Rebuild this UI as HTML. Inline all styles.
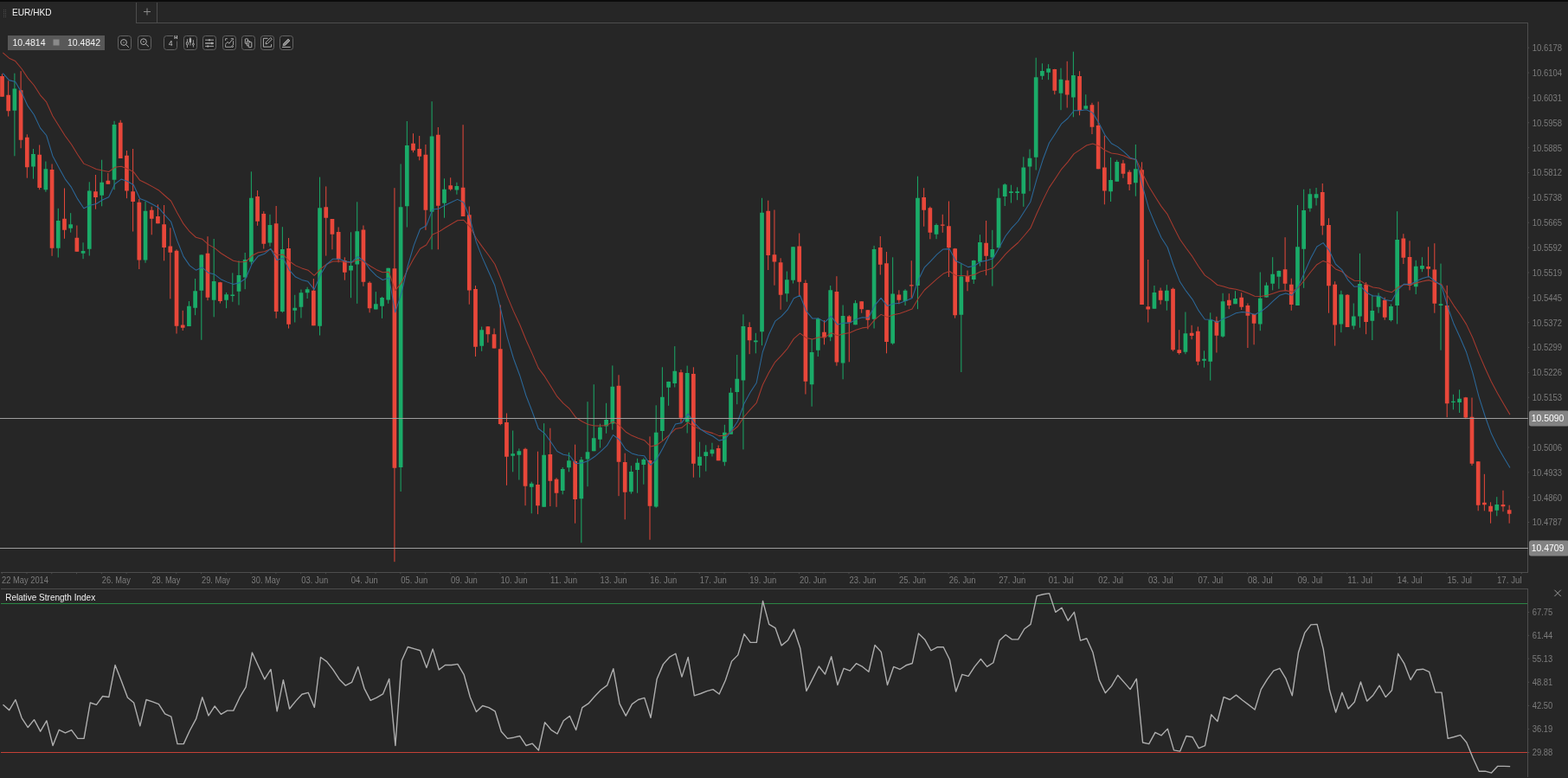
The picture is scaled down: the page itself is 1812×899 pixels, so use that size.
<!DOCTYPE html>
<html lang="en"><head><meta charset="utf-8"><title>EUR/HKD</title>
<style>html,body{margin:0;padding:0;background:#262626;overflow:hidden}svg{display:block}text{font-family:"Liberation Sans","DejaVu Sans",sans-serif}</style></head><body>
<svg width="1812" height="899" viewBox="0 0 1812 899">
<rect width="1812" height="899" fill="#262626"/>
<rect width="1812" height="2" fill="#0b0b0b"/>
<g stroke="#4d4d4d" stroke-width="1" fill="none" shape-rendering="crispEdges">
<path d="M157.5 2.5V26.5H1765.5V661.5"/>
<path d="M181.5 2.5V26.5"/>
<path d="M1 661.5H1765.5"/>
<path d="M1 680.5H1765.5V897.5"/>
<path d="M2.2 662v1.2M30.99 662v1.2M59.78 662v1.2M88.56 662v1.2M117.35 662v1.2M146.14 662v1.2M174.93 662v1.2M203.72 662v1.2M232.5 662v1.2M261.29 662v1.2M290.08 662v1.2M318.87 662v1.2M347.66 662v1.2M376.44 662v1.2M405.23 662v1.2M434.02 662v1.2M462.81 662v1.2M491.6 662v1.2M520.38 662v1.2M549.17 662v1.2M577.96 662v1.2M606.75 662v1.2M635.54 662v1.2M664.32 662v1.2M693.11 662v1.2M721.9 662v1.2M750.69 662v1.2M779.48 662v1.2M808.26 662v1.2M837.05 662v1.2M865.84 662v1.2M894.63 662v1.2M923.42 662v1.2M952.2 662v1.2M980.99 662v1.2M1009.78 662v1.2M1038.57 662v1.2M1067.36 662v1.2M1096.14 662v1.2M1124.93 662v1.2M1153.72 662v1.2M1182.51 662v1.2M1211.3 662v1.2M1240.08 662v1.2M1268.87 662v1.2M1297.66 662v1.2M1326.45 662v1.2M1355.24 662v1.2M1384.02 662v1.2M1412.81 662v1.2M1441.6 662v1.2M1470.39 662v1.2M1499.18 662v1.2M1527.96 662v1.2M1556.75 662v1.2M1585.54 662v1.2M1614.33 662v1.2M1643.12 662v1.2M1671.9 662v1.2M1700.69 662v1.2M1729.48 662v1.2M1758.27 662v1.2" stroke="#4e4e4e" shape-rendering="geometricPrecision"/>
<path d="M1766 55.2h1.2M1766 84.06h1.2M1766 112.92h1.2M1766 141.78h1.2M1766 170.64h1.2M1766 199.5h1.2M1766 228.36h1.2M1766 257.22h1.2M1766 286.08h1.2M1766 314.94h1.2M1766 343.8h1.2M1766 372.66h1.2M1766 401.52h1.2M1766 430.38h1.2M1766 459.24h1.2M1766 516.96h1.2M1766 545.82h1.2M1766 574.68h1.2M1766 603.54h1.2M1766 707.4h1.2M1766 734.3h1.2M1766 761.2h1.2M1766 788.3h1.2M1766 815.4h1.2M1766 842.4h1.2M1766 869.5h1.2" stroke="#4e4e4e" shape-rendering="geometricPrecision"/>
</g>
<g fill="#4c4c4c">
<rect x="4" y="11" width="1" height="1"/><rect x="6" y="11" width="1" height="1"/>
<rect x="4" y="13" width="1" height="1"/><rect x="6" y="13" width="1" height="1"/>
<rect x="4" y="15" width="1" height="1"/><rect x="6" y="15" width="1" height="1"/>
<rect x="4" y="17" width="1" height="1"/><rect x="6" y="17" width="1" height="1"/>
<rect x="4" y="19" width="1" height="1"/><rect x="6" y="19" width="1" height="1"/>
</g>
<text x="14" y="18" font-size="11" fill="#f2f2f2" textLength="45.5" lengthAdjust="spacingAndGlyphs">EUR/HKD</text>
<path d="M166 13.5h8M170 9.5v8" stroke="#8a8a8a" stroke-width="1" fill="none"/>
<rect x="9" y="41" width="112" height="17" fill="#585858"/>
<text x="14.5" y="53.3" font-size="11" fill="#f2f2f2" textLength="38" lengthAdjust="spacingAndGlyphs">10.4814</text>
<rect x="61.5" y="45.5" width="7" height="7" fill="#8a8a8a"/>
<text x="78" y="53.3" font-size="11" fill="#f2f2f2" textLength="38" lengthAdjust="spacingAndGlyphs">10.4842</text>
<rect x="136.5" y="41.5" width="15" height="16" rx="2.800" ry="2.800" fill="#232323" stroke="#626262"/>
<rect x="159.5" y="41.5" width="15" height="16" rx="2.800" ry="2.800" fill="#232323" stroke="#626262"/>
<path d="M200 41.5H192.5a3 3 0 0 0-3 3v10a3 3 0 0 0 3 3h9a3 3 0 0 0 3-3V47.500" fill="#232323" stroke="#626262"/>
<rect x="212.5" y="41.5" width="15" height="16" rx="2.800" ry="2.800" fill="#232323" stroke="#626262"/>
<rect x="234.5" y="41.5" width="15" height="16" rx="2.800" ry="2.800" fill="#232323" stroke="#626262"/>
<rect x="257.5" y="41.5" width="15" height="16" rx="2.800" ry="2.800" fill="#232323" stroke="#626262"/>
<rect x="279.5" y="41.5" width="15" height="16" rx="2.800" ry="2.800" fill="#232323" stroke="#626262"/>
<rect x="301.5" y="41.5" width="15" height="16" rx="2.800" ry="2.800" fill="#232323" stroke="#626262"/>
<rect x="323.5" y="41.5" width="15" height="16" rx="2.800" ry="2.800" fill="#232323" stroke="#626262"/>
<g transform="translate(136,41)" fill="none" stroke="#b0b0b0" stroke-width="1"><circle cx="7" cy="8" r="3.4"/><path d="M9.600 10.600l3.300 3.200"/><rect x="6" y="7.500" width="2.200" height="1.100" fill="#7a7a7a" stroke="none"/></g>
<g transform="translate(159,41)" fill="none" stroke="#b0b0b0" stroke-width="1"><circle cx="6.900" cy="7.200" r="3.400"/><path d="M9.500 9.800l3.300 3.100"/><rect x="6.200" y="6.500" width="1.500" height="1.500" fill="#9a9a9a" stroke="none"/></g>
<text x="194.8" y="52.900" font-size="8.600" fill="#c4c4c4">4</text>
<text x="201.2" y="45.300" font-size="6" font-weight="bold" fill="#d8d8d8" textLength="4" lengthAdjust="spacingAndGlyphs">H</text>
<g transform="translate(212,41)" fill="none" stroke="#b0b0b0" stroke-width="1"><path d="M4.400 4.100v9.900M7.900 2.200v9.400M11.400 5.200v8.300" stroke="#9a9a9a"/><ellipse cx="4.400" cy="9.200" rx="1.100" ry="1.900" fill="#232323"/><rect x="6.700" y="3.300" width="2.400" height="4.900" rx="0.800" fill="#b0b0b0" stroke="none"/><path d="M11.400 8.800l1 1.400-1 1.400-1-1.400z" fill="#232323"/></g>
<g transform="translate(234,41)" fill="none" stroke="#b0b0b0" stroke-width="1"><path d="M3.100 5.200h9.900M3.100 12.400h9.900" stroke="#a8a8a8"/><path d="M3.100 9h9.900" stroke="#8e8e8e" stroke-width="1.800"/><path d="M8 4.200v2M10.900 7.800v2.400M6.200 11.400v2" stroke="#c0c0c0" stroke-width="1.300"/></g>
<g transform="translate(257,41)" fill="none" stroke="#b0b0b0" stroke-width="1"><path d="M5.800 3.700H3.600v2.300M3.600 10.300v3h7M12.600 11v-4.800M9.800 3.700h2.800v1.300" stroke="#a0a0a0"/><path d="M3.600 10l2.500-2.600 1.600 1.900 4.100-4.800"/><circle cx="11.600" cy="12.600" r="0.900" fill="#232323"/></g>
<g transform="translate(279,41)" fill="none" stroke="#b0b0b0" stroke-width="1"><rect x="4.300" y="3.900" width="3.200" height="5.400" rx="0.400"/><rect x="6.300" y="6.400" width="3.400" height="5.400" rx="0.400" fill="#232323"/><rect x="8.200" y="7.700" width="3.600" height="6" rx="0.400" fill="#232323"/></g>
<g transform="translate(301,41)" fill="none" stroke="#b0b0b0" stroke-width="1"><path d="M8.500 3.300H3.400v9.800h9.200v-3"/><path d="M6 9.900l0.500-2.200 5.200-5.200 1.700 1.700-5.200 5.200z" fill="#232323"/></g>
<g transform="translate(323,41)" fill="none" stroke="#b0b0b0" stroke-width="1"><path d="M3 13.400h9.700"/><path d="M4 11.700l0.700-2.400 5.300-5.300 2 2-5.300 5.300z" fill="#8a8a8a" stroke="#b0b0b0" stroke-width="0.800"/></g>
<text x="1770.8" y="59.1" font-size="11" fill="#7c7c7c" textLength="34.3" lengthAdjust="spacingAndGlyphs">10.6178</text>
<text x="1770.8" y="87.96000000000001" font-size="11" fill="#7c7c7c" textLength="34.3" lengthAdjust="spacingAndGlyphs">10.6104</text>
<text x="1770.8" y="116.82000000000001" font-size="11" fill="#7c7c7c" textLength="34.3" lengthAdjust="spacingAndGlyphs">10.6031</text>
<text x="1770.8" y="145.68" font-size="11" fill="#7c7c7c" textLength="34.3" lengthAdjust="spacingAndGlyphs">10.5958</text>
<text x="1770.8" y="174.54" font-size="11" fill="#7c7c7c" textLength="34.3" lengthAdjust="spacingAndGlyphs">10.5885</text>
<text x="1770.8" y="203.4" font-size="11" fill="#7c7c7c" textLength="34.3" lengthAdjust="spacingAndGlyphs">10.5812</text>
<text x="1770.8" y="232.26000000000002" font-size="11" fill="#7c7c7c" textLength="34.3" lengthAdjust="spacingAndGlyphs">10.5738</text>
<text x="1770.8" y="261.11999999999995" font-size="11" fill="#7c7c7c" textLength="34.3" lengthAdjust="spacingAndGlyphs">10.5665</text>
<text x="1770.8" y="289.97999999999996" font-size="11" fill="#7c7c7c" textLength="34.3" lengthAdjust="spacingAndGlyphs">10.5592</text>
<text x="1770.8" y="318.84" font-size="11" fill="#7c7c7c" textLength="34.3" lengthAdjust="spacingAndGlyphs">10.5519</text>
<text x="1770.8" y="347.7" font-size="11" fill="#7c7c7c" textLength="34.3" lengthAdjust="spacingAndGlyphs">10.5445</text>
<text x="1770.8" y="376.55999999999995" font-size="11" fill="#7c7c7c" textLength="34.3" lengthAdjust="spacingAndGlyphs">10.5372</text>
<text x="1770.8" y="405.41999999999996" font-size="11" fill="#7c7c7c" textLength="34.3" lengthAdjust="spacingAndGlyphs">10.5299</text>
<text x="1770.8" y="434.28" font-size="11" fill="#7c7c7c" textLength="34.3" lengthAdjust="spacingAndGlyphs">10.5226</text>
<text x="1770.8" y="463.13999999999993" font-size="11" fill="#7c7c7c" textLength="34.3" lengthAdjust="spacingAndGlyphs">10.5153</text>
<text x="1770.8" y="520.86" font-size="11" fill="#7c7c7c" textLength="34.3" lengthAdjust="spacingAndGlyphs">10.5006</text>
<text x="1770.8" y="549.72" font-size="11" fill="#7c7c7c" textLength="34.3" lengthAdjust="spacingAndGlyphs">10.4933</text>
<text x="1770.8" y="578.58" font-size="11" fill="#7c7c7c" textLength="34.3" lengthAdjust="spacingAndGlyphs">10.4860</text>
<text x="1770.8" y="607.44" font-size="11" fill="#7c7c7c" textLength="34.3" lengthAdjust="spacingAndGlyphs">10.4787</text>
<text x="1770.7" y="711.3" font-size="11" fill="#7c7c7c" textLength="23.5" lengthAdjust="spacingAndGlyphs">67.75</text>
<text x="1770.7" y="738.1999999999999" font-size="11" fill="#7c7c7c" textLength="23.5" lengthAdjust="spacingAndGlyphs">61.44</text>
<text x="1770.7" y="765.1" font-size="11" fill="#7c7c7c" textLength="23.5" lengthAdjust="spacingAndGlyphs">55.13</text>
<text x="1770.7" y="792.1999999999999" font-size="11" fill="#7c7c7c" textLength="23.5" lengthAdjust="spacingAndGlyphs">48.81</text>
<text x="1770.7" y="819.3" font-size="11" fill="#7c7c7c" textLength="23.5" lengthAdjust="spacingAndGlyphs">42.50</text>
<text x="1770.7" y="846.3" font-size="11" fill="#7c7c7c" textLength="23.5" lengthAdjust="spacingAndGlyphs">36.19</text>
<text x="1770.7" y="873.4" font-size="11" fill="#7c7c7c" textLength="23.5" lengthAdjust="spacingAndGlyphs">29.88</text>
<text x="2" y="674.1" font-size="11" fill="#7c7c7c" textLength="54" lengthAdjust="spacingAndGlyphs">22 May 2014</text>
<text x="117.85" y="674.1" font-size="11" fill="#7c7c7c" textLength="33.0" lengthAdjust="spacingAndGlyphs">26. May</text>
<text x="175.43" y="674.1" font-size="11" fill="#7c7c7c" textLength="33.0" lengthAdjust="spacingAndGlyphs">28. May</text>
<text x="233" y="674.1" font-size="11" fill="#7c7c7c" textLength="33.0" lengthAdjust="spacingAndGlyphs">29. May</text>
<text x="290.58" y="674.1" font-size="11" fill="#7c7c7c" textLength="33.0" lengthAdjust="spacingAndGlyphs">30. May</text>
<text x="348.16" y="674.1" font-size="11" fill="#7c7c7c" textLength="31.0" lengthAdjust="spacingAndGlyphs">03. Jun</text>
<text x="405.73" y="674.1" font-size="11" fill="#7c7c7c" textLength="31.0" lengthAdjust="spacingAndGlyphs">04. Jun</text>
<text x="463.31" y="674.1" font-size="11" fill="#7c7c7c" textLength="31.0" lengthAdjust="spacingAndGlyphs">05. Jun</text>
<text x="520.88" y="674.1" font-size="11" fill="#7c7c7c" textLength="31.0" lengthAdjust="spacingAndGlyphs">09. Jun</text>
<text x="578.46" y="674.1" font-size="11" fill="#7c7c7c" textLength="31.0" lengthAdjust="spacingAndGlyphs">10. Jun</text>
<text x="636.04" y="674.1" font-size="11" fill="#7c7c7c" textLength="31.0" lengthAdjust="spacingAndGlyphs">11. Jun</text>
<text x="693.61" y="674.1" font-size="11" fill="#7c7c7c" textLength="31.0" lengthAdjust="spacingAndGlyphs">13. Jun</text>
<text x="751.19" y="674.1" font-size="11" fill="#7c7c7c" textLength="31.0" lengthAdjust="spacingAndGlyphs">16. Jun</text>
<text x="808.76" y="674.1" font-size="11" fill="#7c7c7c" textLength="31.0" lengthAdjust="spacingAndGlyphs">17. Jun</text>
<text x="866.34" y="674.1" font-size="11" fill="#7c7c7c" textLength="31.0" lengthAdjust="spacingAndGlyphs">19. Jun</text>
<text x="923.92" y="674.1" font-size="11" fill="#7c7c7c" textLength="31.0" lengthAdjust="spacingAndGlyphs">20. Jun</text>
<text x="981.49" y="674.1" font-size="11" fill="#7c7c7c" textLength="31.0" lengthAdjust="spacingAndGlyphs">23. Jun</text>
<text x="1039.07" y="674.1" font-size="11" fill="#7c7c7c" textLength="31.0" lengthAdjust="spacingAndGlyphs">25. Jun</text>
<text x="1096.64" y="674.1" font-size="11" fill="#7c7c7c" textLength="31.0" lengthAdjust="spacingAndGlyphs">26. Jun</text>
<text x="1154.22" y="674.1" font-size="11" fill="#7c7c7c" textLength="31.0" lengthAdjust="spacingAndGlyphs">27. Jun</text>
<text x="1211.8" y="674.1" font-size="11" fill="#7c7c7c" textLength="28.6" lengthAdjust="spacingAndGlyphs">01. Jul</text>
<text x="1269.37" y="674.1" font-size="11" fill="#7c7c7c" textLength="28.6" lengthAdjust="spacingAndGlyphs">02. Jul</text>
<text x="1326.95" y="674.1" font-size="11" fill="#7c7c7c" textLength="28.6" lengthAdjust="spacingAndGlyphs">03. Jul</text>
<text x="1384.52" y="674.1" font-size="11" fill="#7c7c7c" textLength="28.6" lengthAdjust="spacingAndGlyphs">07. Jul</text>
<text x="1442.1" y="674.1" font-size="11" fill="#7c7c7c" textLength="28.6" lengthAdjust="spacingAndGlyphs">08. Jul</text>
<text x="1499.68" y="674.1" font-size="11" fill="#7c7c7c" textLength="28.6" lengthAdjust="spacingAndGlyphs">09. Jul</text>
<text x="1557.25" y="674.1" font-size="11" fill="#7c7c7c" textLength="28.6" lengthAdjust="spacingAndGlyphs">11. Jul</text>
<text x="1614.83" y="674.1" font-size="11" fill="#7c7c7c" textLength="28.6" lengthAdjust="spacingAndGlyphs">14. Jul</text>
<text x="1672.4" y="674.1" font-size="11" fill="#7c7c7c" textLength="28.6" lengthAdjust="spacingAndGlyphs">15. Jul</text>
<text x="1729.98" y="674.1" font-size="11" fill="#7c7c7c" textLength="28.6" lengthAdjust="spacingAndGlyphs">17. Jul</text>
<path d="M16.89 84.7V180.3M38.48 172V206.7M52.88 186.5V221.7M67.27 240.8V297.5M81.67 246.2V268.7M96.06 280.3V299.2M103.26 210.3V295.5M117.65 184.7V238.3M132.05 139.8V219.2M168.03 233V303.7M218.41 348V377M225.61 322V364.2M232.8 294.3V392.8M247.2 276V366.3M261.59 338V356.2M268.79 315.4V348.8M275.99 301.3V352.5M283.18 292V334.2M290.38 198.3V306.2M311.97 247.8V284.7M326.37 262.2V361.3M340.76 340.8V372.5M347.96 334.5V367.5M355.15 331.7V345M369.55 204.6V387.5M405.53 268.3V344.2M412.73 233.3V350.8M434.32 337.1V357.5M441.52 342.9V367.9M448.71 309.7V350.8M463.11 189.5V568M470.31 140V262.5M499.09 117.2V288.3M513.49 206.3V251.7M527.88 210.8V224.7M556.67 377.5V405.8M592.65 497.5V545.3M599.85 518.3V554.5M614.25 556.7V593.3M628.64 489.2V585.8M650.23 540V571.3M657.43 522.8V545.3M671.82 528V627.2M679.02 464.2V562.2M686.22 444.2V521.3M693.41 489.7V517.5M700.61 465.8V500.8M707.81 422.4V496.7M729.4 538.2V570.6M736.59 529.8V569.7M743.79 529.4V559.7M758.19 468.3V586.7M765.38 424.3V509.2M772.58 440.8V468.8M779.78 400.1V447.5M794.17 422.6V500.5M808.56 510.6V551.7M815.76 514.3V544.6M822.96 511.7V527.5M837.35 490.8V538.3M844.55 448.2V501.7M851.75 410V467.2M858.94 363.3V519.4M873.34 384.8V408.3M880.53 228.8V399.2M909.32 313.5V348.7M916.52 285V327.5M938.11 391.7V469.7M945.31 367V412M959.7 330V394.2M974.1 352.5V438.3M988.49 347V375.3M1010.08 283.9V379.5M1031.67 297.3V398.3M1046.07 334.2V353M1060.46 203.7V357.2M1082.05 258.3V276.2M1110.84 305V430M1125.23 300.5V328M1132.43 271.2V307.5M1146.82 265.8V330.6M1154.02 217.5V286.2M1161.22 212V238M1168.41 213.7V234.5M1175.61 216.3V231.2M1182.81 181.3V238.8M1190.01 172.5V220.8M1197.2 66.7V196.5M1204.4 73.3V92M1211.6 74.2V92.2M1225.99 78.7V127.2M1240.38 59.7V135.3M1254.78 109.2V125.8M1283.57 182V233M1290.76 184.8V209.7M1312.35 167V226.7M1333.94 330V356.7M1348.34 329.2V358.7M1369.93 360.5V409.2M1391.52 405.3V424.7M1398.72 361.3V439.7M1413.11 338.8V390M1427.51 336.2V351.2M1456.29 314.5V382.2M1463.49 326.3V343.6M1470.69 297.2V335.4M1477.88 312.5V333.8M1499.48 237V353M1506.67 218.8V332.8M1513.87 218V244.7M1521.07 217V237.5M1549.86 335.8V384.2M1564.25 350.5V380.6M1571.45 292.8V378.7M1585.84 340.8V393M1593.04 338.5V361.7M1607.43 351.5V371.5M1614.63 244.2V374.4M1636.22 300.8V340M1643.42 297.2V314.2M1665.01 304.6V404.7M1679.4 455.8V473.3M1686.6 450.3V477M1729.78 574.2V596.3" stroke="#1aab68" stroke-width="1" fill="none"/>
<path d="M2.5 85.5V111.7M9.7 93.3V134.5M24.09 82.2V171.3M31.29 155.3V205.7M45.68 167.5V219.2M60.08 189.5V295.8M74.47 217.5V275.8M88.86 260.5V290.8M110.45 202V241.7M124.85 200V212.8M139.24 138.8V183M146.44 174V229.2M153.64 172V267.5M160.83 230V311M175.23 238.7V271.3M182.43 236.3V258.3M189.62 237V301.3M196.82 263.3V345.3M204.02 288.3V385.5M211.21 358.8V382M240 273.2V347.2M254.4 325.8V350.5M297.58 220V260.8M304.77 244.2V287.5M319.17 238V367.8M333.56 275V379.5M362.35 322V376.2M376.74 215.4V295.6M383.94 253V288.3M391.14 262.5V303.3M398.33 297.3V323.7M419.93 260.5V330.8M427.12 325.2V361.3M455.91 217.2V649.2M477.5 154.2V176.2M484.7 157V185.3M491.9 167V265.8M506.29 147V288.3M520.68 205.3V220.4M535.08 144.2V250M542.27 238.5V351.7M549.47 330V412M563.87 377V395.8M571.06 379.5V402.5M578.26 352.5V491.3M585.46 477.5V560.8M607.05 517.5V584.2M621.44 521.7V594.2M635.84 494.7V585M643.03 552.2V585.8M664.62 513.7V604.7M715 433.3V573.2M722.2 523.7V600.3M750.99 504.4V623.7M786.97 427.1V488.3M801.37 424.3V551.7M830.15 514.5V532.2M866.14 372.3V409.2M887.73 231.7V312M894.93 242.5V329.7M902.12 298.3V357.8M923.72 269.5V341.7M930.91 323.5V455.5M952.5 370V398.3M966.9 319.2V422.7M981.29 364.2V418.3M995.69 348.3V361.7M1002.88 358V380.3M1017.28 273V317.5M1024.47 291V408.3M1038.87 335.3V351.3M1053.26 301.2V344.2M1067.66 217.2V261.7M1074.85 238.7V276.3M1089.25 247.8V268.8M1096.44 232.5V320M1103.64 286.8V367.6M1118.04 312.5V336.3M1139.63 255V318.2M1218.79 79.7V109.2M1233.19 70.8V124.5M1247.58 82.2V133.3M1261.97 118.8V155M1269.17 117.5V195.3M1276.37 156.7V236.3M1297.96 184.8V205.8M1305.16 196.5V220M1319.55 187.3V352M1326.75 300V372.5M1341.14 332.5V351.7M1355.54 332.5V405.8M1362.73 381.2V409.7M1377.13 375.8V392.2M1384.32 377.5V422M1405.91 365.8V407.5M1420.31 339.2V357.2M1434.7 338.3V358M1441.9 350.5V402M1449.1 362.5V398.3M1485.08 274.2V335.8M1492.28 321.7V358.8M1528.26 212V271.5M1535.46 252.2V361.7M1542.66 325.2V399.6M1557.05 340V378M1578.64 326.2V386.2M1600.23 343.7V369.7M1621.83 270.2V305M1629.02 278.3V335.4M1650.61 285.3V320.5M1657.81 281.2V361.7M1672.2 329.8V482.2M1693.8 458.8V484.2M1700.99 459.5V538M1708.19 533V590.3M1715.39 547.8V590.3M1722.58 580.3V604.7M1736.98 566.7V591.2M1744.17 583.7V604.7" stroke="#e8473a" stroke-width="1" fill="none"/>
<path d="M14.54 102.5h4.7v25.3h-4.7zM36.13 178h4.7v14.5h-4.7zM50.53 195.2h4.7v24h-4.7zM64.92 255h4.7v31.7h-4.7zM79.32 259.2h4.7v4.5h-4.7zM93.71 290h4.7v2.8h-4.7zM100.91 220.5h4.7v67.3h-4.7zM115.3 210.8h4.7v15h-4.7zM129.7 144h4.7v63.8h-4.7zM165.68 243.8h4.7v56.8h-4.7zM216.06 353.8h4.7v23.2h-4.7zM223.26 336.2h4.7v19.6h-4.7zM230.45 294.5h4.7v41.3h-4.7zM244.85 325h4.7v21.7h-4.7zM259.24 340.3h4.7v6.4h-4.7zM266.44 340.5h4.7v1.5h-4.7zM273.64 318h4.7v18.7h-4.7zM280.83 300h4.7v20.5h-4.7zM288.03 228.8h4.7v73.7h-4.7zM309.62 260h4.7v20.6h-4.7zM324.01 288h4.7v72h-4.7zM338.41 355.8h4.7v3h-4.7zM345.61 338.3h4.7v16.4h-4.7zM352.8 334.2h4.7v4.1h-4.7zM367.2 240.2h4.7v136.5h-4.7zM403.18 307h4.7v5.5h-4.7zM410.38 267.2h4.7v38.4h-4.7zM431.97 351.2h4.7v6.3h-4.7zM439.17 344.1h4.7v9.6h-4.7zM446.36 309.8h4.7v36.6h-4.7zM460.76 239.2h4.7v300.8h-4.7zM467.95 168h4.7v70.3h-4.7zM496.74 157.5h4.7v87.2h-4.7zM511.14 218.8h4.7v15.9h-4.7zM525.53 215h4.7v4.6h-4.7zM554.32 381.2h4.7v18.5h-4.7zM590.3 524.2h4.7v2.5h-4.7zM597.5 521.3h4.7v4.5h-4.7zM611.89 558.8h4.7v4h-4.7zM626.29 525.8h4.7v60h-4.7zM647.88 542h4.7v25h-4.7zM655.08 532.2h4.7v8.1h-4.7zM669.47 531.3h4.7v44.9h-4.7zM676.67 522.2h4.7v8.3h-4.7zM683.87 506.2h4.7v15.1h-4.7zM691.06 493.8h4.7v14h-4.7zM698.26 485h4.7v7.5h-4.7zM705.46 446.7h4.7v42.8h-4.7zM727.05 545h4.7v23.3h-4.7zM734.24 534.8h4.7v8.2h-4.7zM741.44 531h4.7v6h-4.7zM755.84 499.7h4.7v85.8h-4.7zM763.03 458.8h4.7v39.2h-4.7zM770.23 440.9h4.7v6.9h-4.7zM777.43 428.7h4.7v14.3h-4.7zM791.82 430.9h4.7v56.6h-4.7zM806.21 527.7h4.7v10.3h-4.7zM813.41 522.2h4.7v4.8h-4.7zM820.61 519.6h4.7v4.6h-4.7zM835 499.7h4.7v34.1h-4.7zM842.2 453.7h4.7v48h-4.7zM849.4 437.8h4.7v15.2h-4.7zM856.59 377h4.7v62.6h-4.7zM870.99 393.5h4.7v1.7h-4.7zM878.18 245.8h4.7v137.5h-4.7zM906.97 323.2h4.7v16h-4.7zM914.17 285.3h4.7v38.4h-4.7zM935.76 407h4.7v37.2h-4.7zM942.96 368.3h4.7v36.5h-4.7zM957.35 335.3h4.7v54.2h-4.7zM971.75 365h4.7v54.6h-4.7zM986.14 350.3h4.7v25h-4.7zM1007.73 287.9h4.7v80.9h-4.7zM1029.32 339.5h4.7v57.2h-4.7zM1043.72 335.8h4.7v12.2h-4.7zM1058.11 228.8h4.7v101.2h-4.7zM1079.7 260h4.7v10.8h-4.7zM1108.49 319.6h4.7v44.1h-4.7zM1122.88 301h4.7v21.9h-4.7zM1130.08 280h4.7v22.7h-4.7zM1144.47 288h4.7v9.5h-4.7zM1151.67 228.7h4.7v57.5h-4.7zM1158.87 213.3h4.7v13.7h-4.7zM1166.06 221.3h4.7v1.7h-4.7zM1173.26 221.3h4.7v1.7h-4.7zM1180.46 193.5h4.7v30.3h-4.7zM1187.66 182.8h4.7v9.7h-4.7zM1194.85 89.2h4.7v92.5h-4.7zM1202.05 82h4.7v5.8h-4.7zM1209.25 79.2h4.7v4.5h-4.7zM1223.64 91.7h4.7v16.1h-4.7zM1238.03 87h4.7v25.5h-4.7zM1252.43 122.2h4.7v3.6h-4.7zM1281.22 208h4.7v13.2h-4.7zM1288.41 187h4.7v22.7h-4.7zM1310 195.2h4.7v16.1h-4.7zM1331.6 338h4.7v18.7h-4.7zM1345.99 335.8h4.7v12h-4.7zM1367.58 385.3h4.7v21.4h-4.7zM1389.17 414.7h4.7v2h-4.7zM1396.37 369.7h4.7v48.1h-4.7zM1410.76 348.3h4.7v40.5h-4.7zM1425.16 345h4.7v6.2h-4.7zM1453.94 344.7h4.7v29.8h-4.7zM1461.14 329.7h4.7v13.9h-4.7zM1468.34 316.8h4.7v11h-4.7zM1475.54 313h4.7v6.8h-4.7zM1497.13 285.3h4.7v67.7h-4.7zM1504.32 243h4.7v44.8h-4.7zM1511.52 224.2h4.7v16.6h-4.7zM1518.72 224.2h4.7v4.6h-4.7zM1547.51 340.3h4.7v34.3h-4.7zM1561.9 365.6h4.7v10.8h-4.7zM1569.1 327.9h4.7v37.6h-4.7zM1583.49 359h4.7v11.8h-4.7zM1590.69 342h4.7v12.7h-4.7zM1605.08 354h4.7v16h-4.7zM1612.28 277.1h4.7v75.8h-4.7zM1633.87 307.7h4.7v23.5h-4.7zM1641.07 307.1h4.7v3.7h-4.7zM1662.66 351.2h4.7v1.7h-4.7zM1677.05 463.8h4.7v1.2h-4.7zM1684.25 460.8h4.7v4.2h-4.7zM1727.43 583h4.7v6.7h-4.7z" fill="#1aab68"/>
<path d="M0.15 88h4.7v23.7h-4.7zM7.35 109.7h4.7v18.6h-4.7zM21.74 104.2h4.7v57.5h-4.7zM28.94 158.8h4.7v34.5h-4.7zM43.33 178.7h4.7v38.3h-4.7zM57.73 196.1h4.7v90.6h-4.7zM72.12 252.8h4.7v13h-4.7zM86.51 274.7h4.7v16.1h-4.7zM108.11 221.3h4.7v6.7h-4.7zM122.5 208.8h4.7v4h-4.7zM136.89 141.8h4.7v41.2h-4.7zM144.09 179.8h4.7v40.7h-4.7zM151.29 221.3h4.7v11.7h-4.7zM158.48 233.8h4.7v66.8h-4.7zM172.88 242.8h4.7v10h-4.7zM180.08 250h4.7v8.3h-4.7zM187.27 259.2h4.7v26.8h-4.7zM194.47 284.6h4.7v7.1h-4.7zM201.67 289.8h4.7v86.9h-4.7zM208.86 375.5h4.7v3.2h-4.7zM237.65 292.8h4.7v50.9h-4.7zM252.05 326.2h4.7v21.8h-4.7zM295.23 227.1h4.7v28.7h-4.7zM302.42 246.9h4.7v34.8h-4.7zM316.82 258.2h4.7v101.8h-4.7zM331.21 287h4.7v87.7h-4.7zM360 335.8h4.7v40.4h-4.7zM374.39 239.3h4.7v12.4h-4.7zM381.59 253h4.7v17.8h-4.7zM388.79 268h4.7v31.7h-4.7zM395.98 301h4.7v13.7h-4.7zM417.58 265.5h4.7v60.3h-4.7zM424.77 326.8h4.7v29.5h-4.7zM453.56 310.3h4.7v230.5h-4.7zM475.15 165.8h4.7v8h-4.7zM482.35 172h4.7v8.8h-4.7zM489.55 178.8h4.7v64h-4.7zM503.94 155.8h4.7v82h-4.7zM518.33 214.2h4.7v4.5h-4.7zM532.73 216.7h4.7v33.3h-4.7zM539.92 248.3h4.7v87.2h-4.7zM547.12 334h4.7v66.8h-4.7zM561.52 377.2h4.7v9h-4.7zM568.71 386.2h4.7v16.3h-4.7zM575.91 403.3h4.7v86.7h-4.7zM583.11 488h4.7v39.8h-4.7zM604.7 518.7h4.7v43h-4.7zM619.09 560h4.7v24.2h-4.7zM633.49 525h4.7v30.8h-4.7zM640.68 553.8h4.7v15.9h-4.7zM662.27 533h4.7v44h-4.7zM712.65 445.8h4.7v88h-4.7zM719.85 534h4.7v34.8h-4.7zM748.64 532.1h4.7v52.6h-4.7zM784.62 430.3h4.7v52.5h-4.7zM799.02 432h4.7v103.8h-4.7zM827.8 517.9h4.7v14.3h-4.7zM863.79 378h4.7v15.3h-4.7zM885.38 243.8h4.7v51.2h-4.7zM892.58 294.3h4.7v8.2h-4.7zM899.77 303.3h4.7v37.5h-4.7zM921.37 284.6h4.7v41.2h-4.7zM928.56 327h4.7v113.8h-4.7zM950.15 383.7h4.7v6.6h-4.7zM964.55 337h4.7v81.5h-4.7zM978.94 365.5h4.7v7h-4.7zM993.34 348.3h4.7v8.9h-4.7zM1000.53 358.3h4.7v11.4h-4.7zM1014.93 286h4.7v19.8h-4.7zM1022.12 304.2h4.7v90.8h-4.7zM1036.52 340.5h4.7v6.2h-4.7zM1050.91 329.2h4.7v1.3h-4.7zM1065.31 228h4.7v14.8h-4.7zM1072.5 240.3h4.7v28.5h-4.7zM1086.9 259.5h4.7v1.3h-4.7zM1094.09 261.2h4.7v25h-4.7zM1101.29 287.2h4.7v77.1h-4.7zM1115.69 319h4.7v6.7h-4.7zM1137.28 280.8h4.7v15h-4.7zM1216.44 80h4.7v24.7h-4.7zM1230.84 92.8h4.7v16.7h-4.7zM1245.23 88h4.7v39.8h-4.7zM1259.62 121.3h4.7v25.4h-4.7zM1266.82 145h4.7v50.3h-4.7zM1274.02 193.5h4.7v27h-4.7zM1295.61 188.8h4.7v12h-4.7zM1302.81 198.8h4.7v14.2h-4.7zM1317.2 196.2h4.7v155.8h-4.7zM1324.4 354.2h4.7v3.3h-4.7zM1338.79 335.8h4.7v10.9h-4.7zM1353.19 333.8h4.7v70.4h-4.7zM1360.38 404.2h4.7v3.8h-4.7zM1374.78 384.7h4.7v3.3h-4.7zM1381.97 382.8h4.7v35h-4.7zM1403.57 370.8h4.7v17h-4.7zM1417.96 346.7h4.7v6.3h-4.7zM1432.35 343.8h4.7v10.9h-4.7zM1439.55 353h4.7v11.7h-4.7zM1446.75 363h4.7v10.7h-4.7zM1482.73 311.3h4.7v16.5h-4.7zM1489.93 328.7h4.7v23.3h-4.7zM1525.91 222h4.7v38.8h-4.7zM1533.11 260h4.7v70.3h-4.7zM1540.31 328.7h4.7v46.7h-4.7zM1554.7 340.8h4.7v37.2h-4.7zM1576.29 328.7h4.7v43.3h-4.7zM1597.88 346.7h4.7v20h-4.7zM1619.48 275.5h4.7v22.3h-4.7zM1626.67 297h4.7v33h-4.7zM1648.26 308h4.7v2.8h-4.7zM1655.46 311.6h4.7v39.2h-4.7zM1669.85 353h4.7v113.2h-4.7zM1691.45 459.2h4.7v23.3h-4.7zM1698.64 481.7h4.7v54.1h-4.7zM1705.84 533.3h4.7v50.4h-4.7zM1713.04 580.8h4.7v2.5h-4.7zM1720.23 584.7h4.7v6.6h-4.7zM1734.63 583h4.7v2.3h-4.7zM1741.82 589.2h4.7v4.5h-4.7z" fill="#e8473a"/>
<path d="M3.3 60.8L10.5 67.23L17.69 70.59L24.89 79.27L32.09 90.13L39.28 98.49L46.48 109.78L53.68 117.92L60.88 133.99L68.07 145.52L75.27 156.97L82.47 166.71L89.66 178.53L96.86 189.14L104.06 192.13L111.25 195.54L118.45 197L125.65 198.5L132.85 193.31L140.04 192.33L147.24 195.01L154.44 198.63L161.63 208.34L168.83 211.72L176.03 215.63L183.23 219.7L190.42 226.01L197.62 232.27L204.82 246.02L212.01 258.66L219.21 267.72L226.41 274.24L233.6 276.17L240.8 282.6L248 286.64L255.2 292.48L262.39 297.04L269.59 301.18L276.79 302.78L283.98 302.51L291.18 295.49L298.38 291.71L305.57 290.76L312.77 287.83L319.97 294.7L327.17 294.07L334.36 301.74L341.56 306.89L348.76 309.88L355.95 312.2L363.15 318.3L370.35 310.86L377.54 305.22L384.74 301.94L391.94 301.73L399.13 302.97L406.33 303.35L413.53 299.91L420.73 302.37L427.92 307.51L435.12 311.67L442.32 314.76L449.51 314.29L456.71 335.86L463.91 326.65L471.11 311.54L478.3 298.43L485.5 287.22L492.7 282.99L499.89 271.04L507.09 267.87L514.29 263.2L521.48 258.96L528.68 254.78L535.88 254.32L543.07 262.05L550.27 275.27L557.47 285.36L564.67 294.96L571.86 305.2L579.06 322.8L586.26 342.33L593.45 359.65L600.65 375.04L607.85 392.82L615.04 408.63L622.24 425.35L629.44 434.91L636.64 446.43L643.83 458.17L651.03 466.15L658.23 472.44L665.42 482.4L672.62 487.06L679.82 490.4L687.01 491.91L694.21 492.09L701.41 491.41L708.61 487.16L715.8 491.6L723 498.95L730.2 503.34L737.39 506.33L744.59 508.68L751.79 515.92L758.99 514.38L766.18 509.08L773.38 502.59L780.58 495.55L787.77 494.34L794.97 488.3L802.17 492.82L809.36 496.14L816.56 498.62L823.76 500.62L830.95 503.63L838.15 503.26L845.35 498.54L852.55 492.75L859.74 481.73L866.94 473.31L874.14 465.71L881.33 444.76L888.53 430.5L895.73 418.31L902.92 410.93L910.12 402.57L917.32 391.4L924.52 385.16L931.71 390.45L938.91 392.03L946.11 389.77L953.3 389.82L960.5 384.63L967.7 387.85L974.89 385.68L982.09 384.42L989.29 381.17L996.49 378.89L1003.68 378.01L1010.88 369.43L1018.08 363.37L1025.27 366.38L1032.47 363.82L1039.67 362.19L1046.87 359.68L1054.06 356.9L1061.26 344.7L1068.46 335L1075.65 328.69L1082.85 322.15L1090.05 316.31L1097.24 313.44L1104.44 318.28L1111.64 318.41L1118.84 319.1L1126.03 317.38L1133.23 313.82L1140.43 312.1L1147.62 309.81L1154.82 302.08L1162.02 293.63L1169.21 286.74L1176.41 280.51L1183.61 272.22L1190.81 263.7L1198 247.08L1205.2 231.36L1212.4 216.87L1219.59 206.19L1226.79 195.28L1233.99 187.11L1241.18 177.58L1248.38 172.84L1255.58 168.02L1262.77 165.99L1269.97 168.78L1277.17 173.7L1284.37 176.97L1291.56 177.93L1298.76 180.1L1305.96 183.24L1313.15 184.38L1320.35 200.34L1327.55 215.31L1334.74 226.99L1341.94 238.39L1349.14 247.67L1356.34 262.58L1363.53 276.43L1370.73 286.8L1377.93 296.43L1385.12 307.99L1392.32 318.16L1399.52 323.06L1406.71 329.23L1413.91 331.05L1421.11 333.14L1428.31 334.27L1435.5 336.21L1442.7 338.93L1449.9 342.24L1457.09 342.47L1464.29 341.26L1471.49 338.93L1478.68 336.46L1485.88 335.63L1493.08 337.19L1500.28 332.25L1507.47 323.75L1514.67 314.27L1521.87 305.69L1529.06 301.42L1536.26 304.17L1543.46 310.95L1550.65 313.75L1557.85 319.87L1565.05 324.22L1572.25 324.57L1579.44 329.09L1586.64 331.94L1593.84 332.9L1601.03 336.11L1608.23 337.82L1615.43 332.04L1622.62 328.78L1629.82 328.89L1637.02 326.87L1644.22 324.99L1651.41 323.64L1658.61 326.23L1665.81 328.6L1673 341.71L1680.2 353.34L1687.4 363.57L1694.6 374.9L1701.79 390.22L1708.99 408.65L1716.19 425.28L1723.38 441.09L1730.58 454.61L1737.78 467.05L1744.97 479.12" stroke="#a63a2f" stroke-width="1.05" fill="none" stroke-linejoin="round"/>
<path d="M3.3 84.7L10.5 92.63L17.69 94.42L24.89 106.65L32.09 122.41L39.28 132.52L46.48 147.88L53.68 156.48L60.88 180.16L68.07 193.76L75.27 206.86L82.47 216.38L89.66 229.91L96.86 240.83L104.06 237.14L111.25 235.48L118.45 230.99L125.65 227.68L132.85 212.47L140.04 207.11L147.24 209.54L154.44 213.81L161.63 229.59L168.83 232.17L176.03 235.92L183.23 239.99L190.42 248.36L197.62 256.24L204.82 278.14L212.01 296.42L219.21 306.86L226.41 312.19L233.6 308.97L240.8 315.29L248 317.05L255.2 322.68L262.39 325.88L269.59 328.54L276.79 326.62L283.98 321.78L291.18 304.88L298.38 295.95L305.57 293.36L312.77 287.3L319.97 300.52L327.17 298.24L334.36 312.14L341.56 320.08L348.76 323.39L355.95 325.36L363.15 334.6L370.35 317.44L377.54 305.49L384.74 299.18L391.94 299.27L399.13 302.08L406.33 302.97L413.53 296.47L420.73 301.8L427.92 311.71L435.12 318.89L442.32 323.47L449.51 320.99L456.71 360.95L463.91 338.82L471.11 307.76L478.3 283.4L485.5 264.75L492.7 260.76L499.89 241.98L507.09 241.22L514.29 237.15L521.48 233.79L528.68 230.38L535.88 233.94L543.07 252.41L550.27 279.39L557.47 297.9L564.67 313.95L571.86 330.05L579.06 359.13L586.26 389.8L593.45 414.24L600.65 433.7L607.85 456.98L615.04 475.49L622.24 495.25L629.44 500.81L636.64 510.81L643.83 521.51L651.03 525.24L658.23 526.5L665.42 535.69L672.62 534.89L679.82 532.58L687.01 527.78L694.21 521.61L701.41 514.95L708.61 502.54L715.8 508.22L723 519.24L730.2 523.92L737.39 525.9L744.59 526.83L751.79 537.35L758.99 530.5L766.18 517.47L773.38 503.55L780.58 489.94L787.77 488.64L794.97 478.14L802.17 488.62L809.36 495.73L816.56 500.54L823.76 504.01L830.95 509.13L838.15 507.42L845.35 497.65L852.55 486.77L859.74 466.81L866.94 453.45L874.14 442.55L881.33 406.77L888.53 386.45L895.73 371.19L902.92 365.66L910.12 357.94L917.32 344.73L924.52 341.29L931.71 359.38L938.91 368.04L946.11 368.09L953.3 372.13L960.5 365.43L967.7 375.08L974.89 373.25L982.09 373.11L989.29 368.96L996.49 366.83L1003.68 367.35L1010.88 352.9L1018.08 344.34L1025.27 353.55L1032.47 351L1039.67 350.21L1046.87 347.59L1054.06 344.49L1061.26 323.45L1068.46 308.79L1075.65 301.52L1082.85 293.97L1090.05 287.94L1097.24 287.62L1104.44 301.56L1111.64 304.84L1118.84 308.64L1126.03 307.25L1133.23 302.29L1140.43 301.11L1147.62 298.73L1154.82 286L1162.02 272.78L1169.21 263.42L1176.41 255.76L1183.61 244.44L1190.81 233.23L1198 207.05L1205.2 184.31L1212.4 165.2L1219.59 154.2L1226.79 142.84L1233.99 136.77L1241.18 127.72L1248.38 127.74L1255.58 126.73L1262.77 130.36L1269.97 142.17L1277.17 156.41L1284.37 165.79L1291.56 169.65L1298.76 175.31L1305.96 182.16L1313.15 184.53L1320.35 214.98L1327.55 240.89L1334.74 258.55L1341.94 274.58L1349.14 285.71L1356.34 307.25L1363.53 325.57L1370.73 336.43L1377.93 345.81L1385.12 358.9L1392.32 369.04L1399.52 369.16L1406.71 372.55L1413.91 368.14L1421.11 365.39L1428.31 361.68L1435.5 360.41L1442.7 361.19L1449.9 363.47L1457.09 360.05L1464.29 354.54L1471.49 347.67L1478.68 341.37L1485.88 338.9L1493.08 341.28L1500.28 331.1L1507.47 315.09L1514.67 298.56L1521.87 285.04L1529.06 280.63L1536.26 289.66L1543.46 305.25L1550.65 311.62L1557.85 323.69L1565.05 331.31L1572.25 330.69L1579.44 338.2L1586.64 341.98L1593.84 341.99L1601.03 346.48L1608.23 347.85L1615.43 334.98L1622.62 328.22L1629.82 328.55L1637.02 324.76L1644.22 321.55L1651.41 319.59L1658.61 325.27L1665.81 329.98L1673 354.75L1680.2 374.58L1687.4 390.25L1694.6 407.03L1701.79 430.44L1708.99 458.3L1716.19 481.03L1723.38 501.08L1730.58 515.97L1737.78 528.58L1744.97 540.42" stroke="#2b6899" stroke-width="1.05" fill="none" stroke-linejoin="round"/>
<path d="M0 483.5H1766M0 633.5H1766" stroke="#9e9e9e" stroke-width="1" shape-rendering="crispEdges"/>
<rect x="1767" y="474.5" width="46" height="18" rx="2.500" fill="#838383"/>
<text x="1769.8" y="487.3" font-size="11.500" fill="#ffffff" textLength="37.5" lengthAdjust="spacingAndGlyphs">10.5090</text>
<rect x="1767" y="624.5" width="46" height="18" rx="2.500" fill="#838383"/>
<text x="1769.8" y="637.3000000000001" font-size="11.500" fill="#ffffff" textLength="37.5" lengthAdjust="spacingAndGlyphs">10.4709</text>
<text x="6.2" y="694" font-size="11" fill="#f0f0f0" textLength="104" lengthAdjust="spacingAndGlyphs">Relative Strength Index</text>
<path d="M1 697.5H1765" stroke="#2b8645" stroke-width="1" shape-rendering="crispEdges"/>
<path d="M1 869.5H1765" stroke="#c44136" stroke-width="1" shape-rendering="crispEdges"/>
<path d="M3.5 814.34L10.7 820.65L17.89 808.5L25.09 829.53L32.29 840.51L39.48 831.63L46.68 845.18L53.88 832.8L61.08 861.53L68.27 843.31L75.47 846.81L82.67 843.54L89.86 853.35L97.06 853.35L104.26 812.01L111.45 814.34L118.65 804.53L125.85 805.47L133.05 768.56L140.24 786.78L147.44 805.93L154.64 812.01L161.83 838.87L169.03 808.5L176.23 810.84L183.43 813.64L190.62 824.85L197.82 828.13L205.02 859.66L212.21 859.66L219.41 844.01L226.61 830.69L233.8 805.7L241 826.96L248.2 815.98L255.4 825.32L262.59 821.12L269.79 821.12L276.99 805.93L284.18 793.79L291.38 754.08L298.58 769.73L305.77 784.91L312.97 773.47L320.17 821.82L327.37 785.61L334.56 819.02L341.76 810.14L348.96 802.2L356.15 800.33L363.35 817.38L370.55 759.45L377.74 764.59L384.94 773.93L392.14 784.91L399.33 792.15L406.53 788.41L413.73 770.43L420.93 795.31L428.12 809.44L435.32 806.17L442.52 801.96L449.71 784.44L456.91 861.53L464.11 763.42L471.31 747.54L478.5 749.64L485.7 751.74L492.9 771.6L500.09 749.87L507.29 773.93L514.49 768.56L521.68 768.56L528.88 767.39L536.08 779.3L543.27 805.47L550.47 822.52L557.67 815.51L564.87 817.61L572.06 821.82L579.26 845.18L586.46 853.35L593.65 852.19L600.85 850.55L608.05 861.53L615.25 859.19L622.44 866.9L629.64 834.67L636.84 843.31L644.03 847.98L651.23 832.8L658.43 827.42L665.62 843.54L672.82 817.61L680.02 812.94L687.22 804.77L694.41 797.29L701.61 791.92L708.81 772.76L716 813.18L723.2 827.19L730.4 813.64L737.59 808.5L744.79 806.4L751.99 829.29L759.19 784.44L766.38 767.63L773.58 759.45L780.78 755.25L787.97 782.11L795.17 759.45L802.37 803.83L809.56 801.5L816.76 798.69L823.96 796.59L831.15 801.96L838.35 786.08L845.55 764.12L852.75 756.88L859.94 732.59L867.14 742.4L874.34 742.4L881.53 694.51L888.73 721.37L895.93 725.58L903.12 745.9L910.32 740.06L917.52 727.21L924.72 748.94L931.91 798.46L939.11 784.44L946.31 769.96L953.5 779.07L960.7 758.75L967.9 791.45L975.1 772.3L982.29 775.1L989.49 766.69L996.69 770.43L1003.88 776.27L1011.08 745.43L1018.28 753.38L1025.47 791.45L1032.67 770.43L1039.87 773.47L1047.07 768.79L1054.26 766.46L1061.46 731.89L1068.66 738.89L1075.85 751.74L1083.05 747.77L1090.25 747.77L1097.44 762.25L1104.64 799.16L1111.84 779.3L1119.04 781.41L1126.23 770.43L1133.43 761.55L1140.63 770.43L1147.82 765.76L1155.02 740.06L1162.22 733.52L1169.41 738.89L1176.61 738.89L1183.81 726.75L1191.01 721.37L1198.2 688.67L1205.4 686.8L1212.6 685.64L1219.79 707.36L1226.99 702.22L1234.19 717.17L1241.38 707.36L1248.58 740.06L1255.78 737.73L1262.97 754.08L1270.17 785.61L1277.37 800.8L1284.57 792.62L1291.76 780.24L1298.96 788.41L1306.16 796.59L1313.35 784.44L1320.55 858.02L1327.75 859.66L1334.94 846.35L1342.14 849.85L1349.34 842.14L1356.54 866.9L1363.73 868.07L1370.93 850.55L1378.13 851.72L1385.32 864.57L1392.52 861.53L1399.72 825.79L1406.91 833.5L1414.11 805.47L1421.31 808.5L1428.51 803.13L1435.7 808.97L1442.9 814.34L1450.1 819.95L1457.29 796.59L1464.49 784.91L1471.69 775.1L1478.88 772.3L1486.08 784.44L1493.28 803.83L1500.48 754.08L1507.67 731.42L1514.87 721.84L1522.07 721.37L1529.26 750.11L1536.46 797.29L1543.66 822.99L1550.86 800.33L1558.05 819.02L1565.25 811.31L1572.45 787.95L1579.64 810.14L1586.84 803.13L1594.04 792.15L1601.23 805.47L1608.43 797.76L1615.63 755.25L1622.83 766.92L1630.02 785.61L1637.22 773.93L1644.42 773.23L1651.61 776.27L1658.81 800.09L1666.01 800.09L1673.2 853.35L1680.4 851.48L1687.6 849.38L1694.8 858.02L1701.99 875.54L1709.19 891.19L1716.39 891.19L1723.58 893.06L1730.78 885.35L1737.98 885.35L1745.17 885.59" stroke="#aeaeae" stroke-width="1.4" fill="none" stroke-linejoin="round"/>
<path d="M1796.4 681.700l7.400 7.400M1803.800 681.700l-7.400 7.400" stroke="#9a9a9a" stroke-width="1" fill="none"/>
</svg></body></html>
